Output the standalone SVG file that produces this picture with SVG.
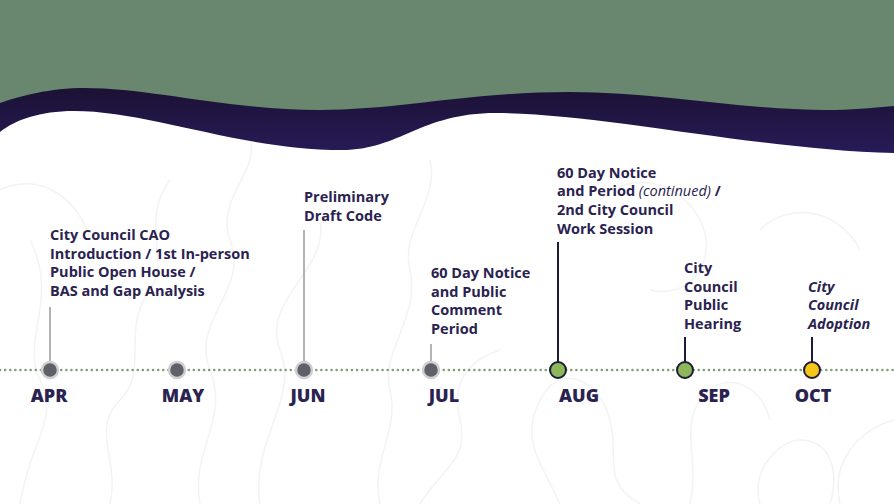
<svg xmlns="http://www.w3.org/2000/svg" width="894" height="504" viewBox="0 0 894 504">
<defs>
<linearGradient id="band" x1="0" y1="0" x2="0" y2="1">
<stop offset="0.6" stop-color="#1c1236"/>
<stop offset="1" stop-color="#281b58"/>
</linearGradient>
<style>
.t{font-family:"Open Sans",Lato,"Liberation Sans",sans-serif;font-weight:700;font-size:14.5px;fill:#2a2350}
.it{font-style:italic}
.cn{font-weight:400;font-style:italic}
.m{font-family:"Open Sans",Lato,"Liberation Sans",sans-serif;font-weight:800;font-size:18px;fill:#2a2350;text-anchor:middle}
.topo{fill:none;stroke:#f3f3f3;stroke-width:1.5}
.g{stroke:#b3b3b3;stroke-width:2}
.d{stroke:#1e1b3a;stroke-width:2}
.past{fill:#606068;stroke:#cfcfd2;stroke-width:2.5}
.done{fill:#8db85a;stroke:#1e1b3a;stroke-width:2}
.now{fill:#f5c518;stroke:#1e1b3a;stroke-width:2}
</style>
</defs>
<rect width="894" height="504" fill="#ffffff"/>
<g id="topo">
<path class="topo" d="M20,504 C30,440 60,420 40,380 C20,340 60,300 30,240"/>
<path class="topo" d="M110,504 C120,460 90,430 120,400 C150,370 120,330 150,290 C170,260 140,220 170,180"/>
<path class="topo" d="M200,504 C190,450 230,420 210,370 C190,320 250,290 230,240 C215,200 260,170 250,140"/>
<path class="topo" d="M260,504 C250,440 300,400 280,350 C260,300 330,270 320,220"/>
<path class="topo" d="M380,504 C370,460 400,430 390,390 C380,350 420,320 410,270 C400,230 440,200 430,160"/>
<path class="topo" d="M420,504 C440,470 470,460 460,420 C450,380 470,360 500,350"/>
<path class="topo" d="M560,504 C540,460 520,440 540,400 C560,360 600,380 610,420 C620,460 600,480 640,504"/>
<path class="topo" d="M690,504 C700,460 680,430 700,400 C720,370 760,380 770,420"/>
<path class="topo" d="M760,504 C750,470 780,440 800,440 C830,440 840,470 830,504"/>
<path class="topo" d="M840,504 C830,460 860,430 894,420"/>
<path class="topo" d="M600,200 C630,170 680,180 700,220 C720,260 690,300 650,290"/>
<path class="topo" d="M760,230 C790,200 840,210 860,250"/>
<path class="topo" d="M0,190 C40,170 80,200 90,240"/>
</g>
<path d="M0,0 H894 V153 C760,150 600,113 496,113 C420,113 400,150 342,150 C240,150 150,111 74,111 C40,111 15,120 0,132 Z" fill="url(#band)"/>
<path d="M0,0 H894 V106 C870,108 850,110 827,110 C740,110 660,92 570,92 C470,92 400,110 319,110 C230,110 150,88 85,88 C50,88 20,96 0,103 Z" fill="#69866e"/>
<g id="connectors">
<line x1="0" y1="370" x2="894" y2="370" stroke="#7f9e72" stroke-width="2.5" stroke-dasharray="0.1 5" stroke-linecap="round"/>
<line class="g" x1="50" y1="307" x2="50" y2="362"/>
<line class="g" x1="304" y1="230" x2="304" y2="362"/>
<line class="g" x1="431" y1="344" x2="431" y2="362"/>
<line class="d" x1="558" y1="242" x2="558" y2="362"/>
<line class="d" x1="685" y1="337" x2="685" y2="362"/>
<line class="d" x1="812" y1="337" x2="812" y2="362"/>
</g>
<g id="apr">
<circle class="past" cx="50" cy="370" r="8"/>
<text class="m" x="49" y="402">APR</text>
<text class="t" x="50" y="240">City Council CAO</text>
<text class="t" x="50" y="259">Introduction / 1st In-person</text>
<text class="t" x="50" y="277">Public Open House /</text>
<text class="t" x="50" y="296">BAS and Gap Analysis</text>
</g>
<g id="may">
<circle class="past" cx="177" cy="370" r="8"/>
<text class="m" x="183" y="402">MAY</text>
</g>
<g id="jun">
<circle class="past" cx="304" cy="370" r="8"/>
<text class="m" x="308" y="402">JUN</text>
<text class="t" x="304" y="202">Preliminary</text>
<text class="t" x="304" y="221">Draft Code</text>
</g>
<g id="jul">
<circle class="past" cx="431" cy="370" r="8"/>
<text class="m" x="444" y="402">JUL</text>
<text class="t" x="431" y="278">60 Day Notice</text>
<text class="t" x="431" y="297">and Public</text>
<text class="t" x="431" y="315">Comment</text>
<text class="t" x="431" y="334">Period</text>
</g>
<g id="aug">
<circle class="done" cx="558" cy="370" r="8"/>
<text class="m" x="579" y="402">AUG</text>
<text class="t" x="557" y="178">60 Day Notice</text>
<text class="t" x="557" y="196">and Period <tspan class="cn">(continued)</tspan> /</text>
<text class="t" x="557" y="215">2nd City Council</text>
<text class="t" x="557" y="234">Work Session</text>
</g>
<g id="sep">
<circle class="done" cx="685" cy="370" r="8"/>
<text class="m" x="714" y="402">SEP</text>
<text class="t" x="684" y="273">City</text>
<text class="t" x="684" y="292">Council</text>
<text class="t" x="684" y="310">Public</text>
<text class="t" x="684" y="329">Hearing</text>
</g>
<g id="oct">
<circle class="now" cx="812" cy="370" r="8"/>
<text class="m" x="813" y="402">OCT</text>
<text class="t it" x="808" y="292">City</text>
<text class="t it" x="808" y="310">Council</text>
<text class="t it" x="808" y="329">Adoption</text>
</g>
</svg>
